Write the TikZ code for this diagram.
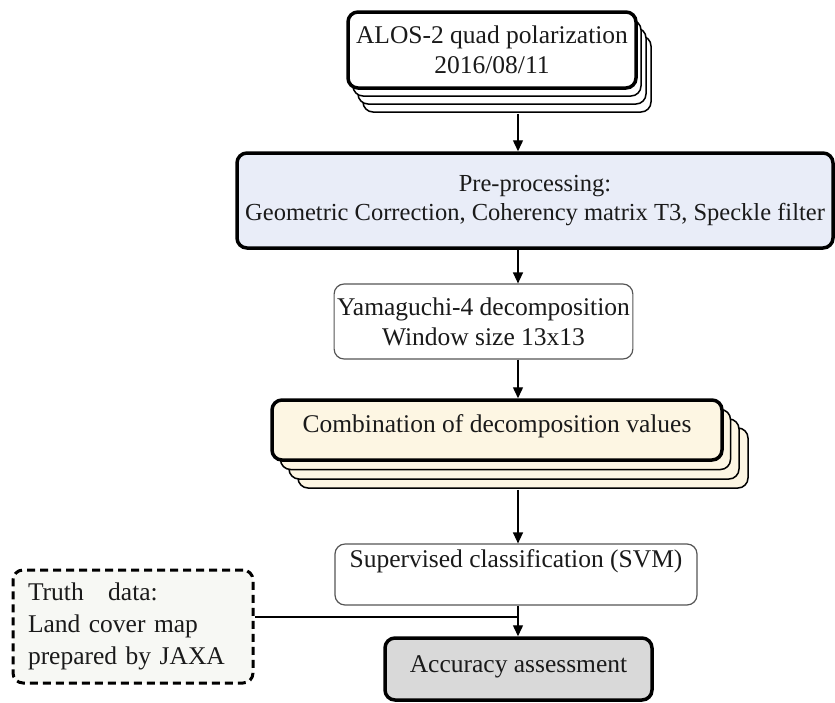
\documentclass[tikz,border=0pt]{standalone}
\usepackage{fontspec}
\setmainfont{Liberation Serif}
\usetikzlibrary{arrows.meta,shadows}
\definecolor{PaleBlue}{HTML}{E9EDF8}
\definecolor{PaleCream}{HTML}{FDF6E3}
\definecolor{PaleGrey}{HTML}{D9D9D9}
\definecolor{PaleMint}{HTML}{F7F8F4}
\definecolor{EdgeGrey}{HTML}{555555}
\definecolor{InkBlack}{HTML}{1A1A1A}

\begin{document}
\begin{tikzpicture}[
    x=1pt, y=-1pt,
    font=\fontsize{25.5}{30}\selectfont,
    box/.style={rounded corners=10pt, align=center, inner sep=3pt, text=InkBlack},
    heavybox/.style={box, draw=black, line width=3.5pt},
    lightbox/.style={box, draw=EdgeGrey, line width=1.2pt, fill=white},
    sheet/.style n args={3}{copy shadow={shadow xshift=#1, shadow yshift=#2, fill=#3, draw=black, line width=1.5pt}},
    dashbox/.style={box, draw=black, line width=3pt, dash pattern=on 8pt off 5pt, fill=PaleMint, align=left, text width=210pt, inner xsep=15pt},
    arrow/.style={-{Triangle[length=11pt,width=10pt]}, line width=1.4pt, draw=black},
    link/.style={line width=1.4pt, draw=black}
  ]
    \useasboundingbox (0,0) rectangle (835,702);
    \coordinate (spine) at (518,0);
    \node[heavybox, fill=white, minimum width=288pt, minimum height=76pt,
          sheet={15pt}{-24pt}{white}, sheet={10pt}{-16pt}{white}, sheet={5pt}{-8pt}{white}]
          (alos) at (492,50) {ALOS-2 quad polarization\\2016/08/11};
    \node[heavybox, fill=PaleBlue, minimum width=596pt, minimum height=95pt, font=\fontsize{24.5}{29}\selectfont]
          (preproc) at (535,200.5)
          {Pre-processing:\\Geometric Correction, Coherency matrix T3, Speckle filter};
    \node[lightbox, minimum width=277pt, minimum height=75pt] (yama) at (483.5,321.5)
          {Yamaguchi-4 decomposition\\Window size 13x13};
    \node[heavybox, fill=PaleCream, minimum width=450pt, minimum height=60pt, text height=18pt, text depth=14pt,
          sheet={26pt}{-28pt}{PaleCream}, sheet={17pt}{-19pt}{PaleCream}, sheet={8.5pt}{-9.5pt}{PaleCream}]
          (combo) at (497,430) {Combination of decomposition values};
    \node[lightbox, minimum width=362pt, minimum height=61pt, text height=18pt, text depth=33pt] (svm) at (516,574.5)
          {Supervised classification (SVM)};
    \node[heavybox, fill=PaleGrey, minimum width=267pt, minimum height=62pt, text height=18pt, text depth=12pt]
          (accuracy) at (518.5,669) {Accuracy assessment};
    \node[dashbox, minimum height=113pt, font=\fontsize{25.5}{32}\selectfont] (truth) at (133,626.5)
          {Truth\hspace{16pt} data:\\Land cover map\\prepared by JAXA};
    \coordinate (alosfoot) at ([yshift=-24pt]alos.south);
    \coordinate (combofoot) at ([yshift=-28pt]combo.south);
    \coordinate (merge) at (518,617);
    \draw[arrow] (alosfoot -| spine) -- (preproc.north -| spine);
    \draw[arrow] (preproc.south -| spine) -- (yama.north -| spine);
    \draw[arrow] (yama.south -| spine) -- (combo.north -| spine);
    \draw[arrow] (combofoot -| spine) -- (svm.north -| spine);
    \draw[arrow] (svm.south -| spine) -- (accuracy.north -| spine);
    \draw[link] (truth.east |- merge) -- (merge);
  \end{tikzpicture}
\end{document}
